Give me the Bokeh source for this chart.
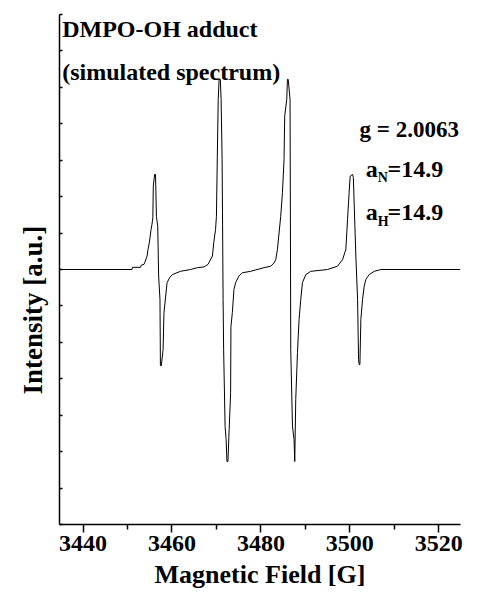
from bokeh.plotting import figure
from bokeh.models import Range1d, FixedTicker, Label, ColumnDataSource, Title
from bokeh.embed import file_html
from bokeh.resources import INLINE

# ---- data ----
field_G = [
    3434.7, 3451.0, 3451.1, 3452.9, 3453.1, 3453.7, 3454.0, 3454.4, 3454.6, 3454.9,
    3455.3, 3455.5, 3455.7, 3455.8, 3456.1, 3456.3, 3456.5, 3456.8, 3457.0, 3457.3,
    3457.4, 3457.6, 3458.0, 3458.2, 3458.9, 3459.5, 3460.1, 3461.9, 3464.2, 3465.7,
    3467.2, 3468.1, 3468.5, 3469.1, 3469.4, 3469.8, 3470.0, 3470.2, 3470.4, 3470.6,
    3470.87, 3471.05, 3471.28, 3471.50, 3471.62, 3471.95, 3472.18, 3472.36, 3472.59, 3472.86,
    3473.19, 3473.26, 3473.58, 3473.94, 3474.32, 3475.06, 3475.83, 3477.70, 3480.70, 3482.21,
    3482.95, 3483.34, 3483.72, 3484.46, 3484.85, 3485.21, 3485.36, 3485.82, 3485.97, 3486.15,
    3486.56, 3486.72, 3487.10, 3487.46, 3487.62, 3487.84, 3488.23, 3488.59, 3488.97, 3489.35,
    3490.10, 3491.22, 3494.99, 3497.24, 3498.37, 3499.11, 3499.49, 3499.85, 3500.08, 3500.62,
    3500.80, 3501.36, 3501.75, 3501.97, 3502.11, 3502.27, 3502.49, 3502.87, 3503.23, 3503.62,
    3504.36, 3505.49, 3507.00, 3524.87,
]
intensity_au = [
    0.0, 0.0, 0.06, 0.06, 0.12, 0.14, 0.23, 0.37, 0.55, 0.73,
    1.10, 1.24, 1.42, 2.29, 2.61, 2.61, 1.46, 1.19, -0.18, -0.82,
    -2.64, -2.64, -2.20, -1.18, -0.36, -0.22, -0.14, -0.05, 0.0, 0.05,
    0.07, 0.14, 0.23, 0.37, 0.74, 1.10, 1.46, 3.11, 4.67, 5.22,
    5.22, 4.67, 3.02, -0.82, -2.20, -4.31, -4.67, -5.27, -5.27, -4.40,
    -3.38, -1.57, -1.18, -0.55, -0.36, -0.18, -0.09, -0.05, 0.05, 0.09,
    0.18, 0.27, 0.55, 1.46, 2.11, 3.02, 4.21, 4.67, 5.22, 5.22,
    4.67, -2.20, -4.30, -4.67, -5.27, -3.57, -2.28, -1.37, -0.82, -0.36,
    -0.14, -0.05, 0.0, 0.09, 0.27, 0.55, 1.37, 2.12, 2.56, 2.61,
    2.53, 0.37, -0.82, -2.47, -2.61, -2.61, -1.37, -0.82, -0.46, -0.27,
    -0.14, -0.05, 0.0, 0.0,
]

x_major_ticks = [3440, 3460, 3480, 3500, 3520]
x_minor_ticks = [3450, 3470, 3490, 3510]
y_ticks = [-7, -6, -5, -4, -3, -2, -1, 0, 1, 2, 3, 4, 5, 6, 7]

x_label = "Magnetic Field [G]"
y_label = "Intensity [a.u.]"
title_lines = ["DMPO-OH adduct", "(simulated spectrum)"]
g_text = "g = 2.0063"
aN_value = "=14.9"
aH_value = "=14.9"

FONT = "Liberation Serif"

p = figure(width=477, height=594, output_backend="svg", toolbar_location=None,
           x_range=Range1d(3434.7, 3524.9), y_range=Range1d(-7, 7),
           min_border_left=59, min_border_right=17, min_border_top=14,
           min_border_bottom=70)
p.xgrid.visible = False
p.ygrid.visible = False
p.outline_line_color = None
p.background_fill_color = "white"
p.border_fill_color = "white"

src = ColumnDataSource(dict(x=field_G, y=intensity_au))
p.line("x", "y", source=src, line_color="black", line_width=1)

xa = p.xaxis[0]
xa.ticker = FixedTicker(ticks=x_major_ticks, minor_ticks=x_minor_ticks)
xa.major_tick_out = 8
xa.major_tick_in = 0
xa.minor_tick_out = 5
xa.minor_tick_in = 0
xa.axis_line_width = 1.5
xa.major_tick_line_width = 1.5
xa.minor_tick_line_width = 1.5
xa.axis_line_color = "black"
xa.major_tick_line_color = "black"
xa.minor_tick_line_color = "black"
xa.major_label_text_font = FONT
xa.major_label_text_font_style = "bold"
xa.major_label_text_font_size = "24px"
xa.major_label_text_color = "black"
xa.major_label_standoff = 3
xa.axis_label = x_label
xa.axis_label_text_font = FONT
xa.axis_label_text_font_style = "bold"
xa.axis_label_text_font_size = "26px"
xa.axis_label_text_color = "black"
xa.axis_label_standoff = 6

ya = p.yaxis[0]
ya.ticker = FixedTicker(ticks=y_ticks)
ya.major_tick_in = 3
ya.major_tick_out = 0
ya.minor_tick_in = 0
ya.minor_tick_out = 0
ya.axis_line_width = 1.5
ya.major_tick_line_width = 1.5
ya.axis_line_color = "black"
ya.major_tick_line_color = "black"
ya.major_label_overrides = {t: "" for t in y_ticks}
ya.major_label_standoff = 0

# y-axis title, placed as a side title so it can sit lower, as in the reference
p.add_layout(Title(text=y_label, align="left", offset=130, standoff=23,
                   text_font=FONT, text_font_style="bold", text_font_size="27px",
                   text_color="black"), "left")


def lab(x, y, text, size="24px", align="left"):
    p.add_layout(Label(x=x, y=y, text=text, text_font=FONT, text_font_style="bold",
                       text_font_size=size, text_color="black",
                       text_baseline="alphabetic", text_align=align))


# annotations
lab(3435.3, 6.59, title_lines[0])
lab(3435.3, 5.41, title_lines[1])
lab(3502.2, 3.85, g_text, "23px")
lab(3503.6, 2.75, "a")
lab(3506.3, 2.53, "N", "14px")
lab(3508.5, 2.75, aN_value)
lab(3503.6, 1.57, "a")
lab(3506.3, 1.32, "H", "14px")
lab(3508.5, 1.57, aH_value)

open("out.html", "w").write(file_html(p, INLINE))
